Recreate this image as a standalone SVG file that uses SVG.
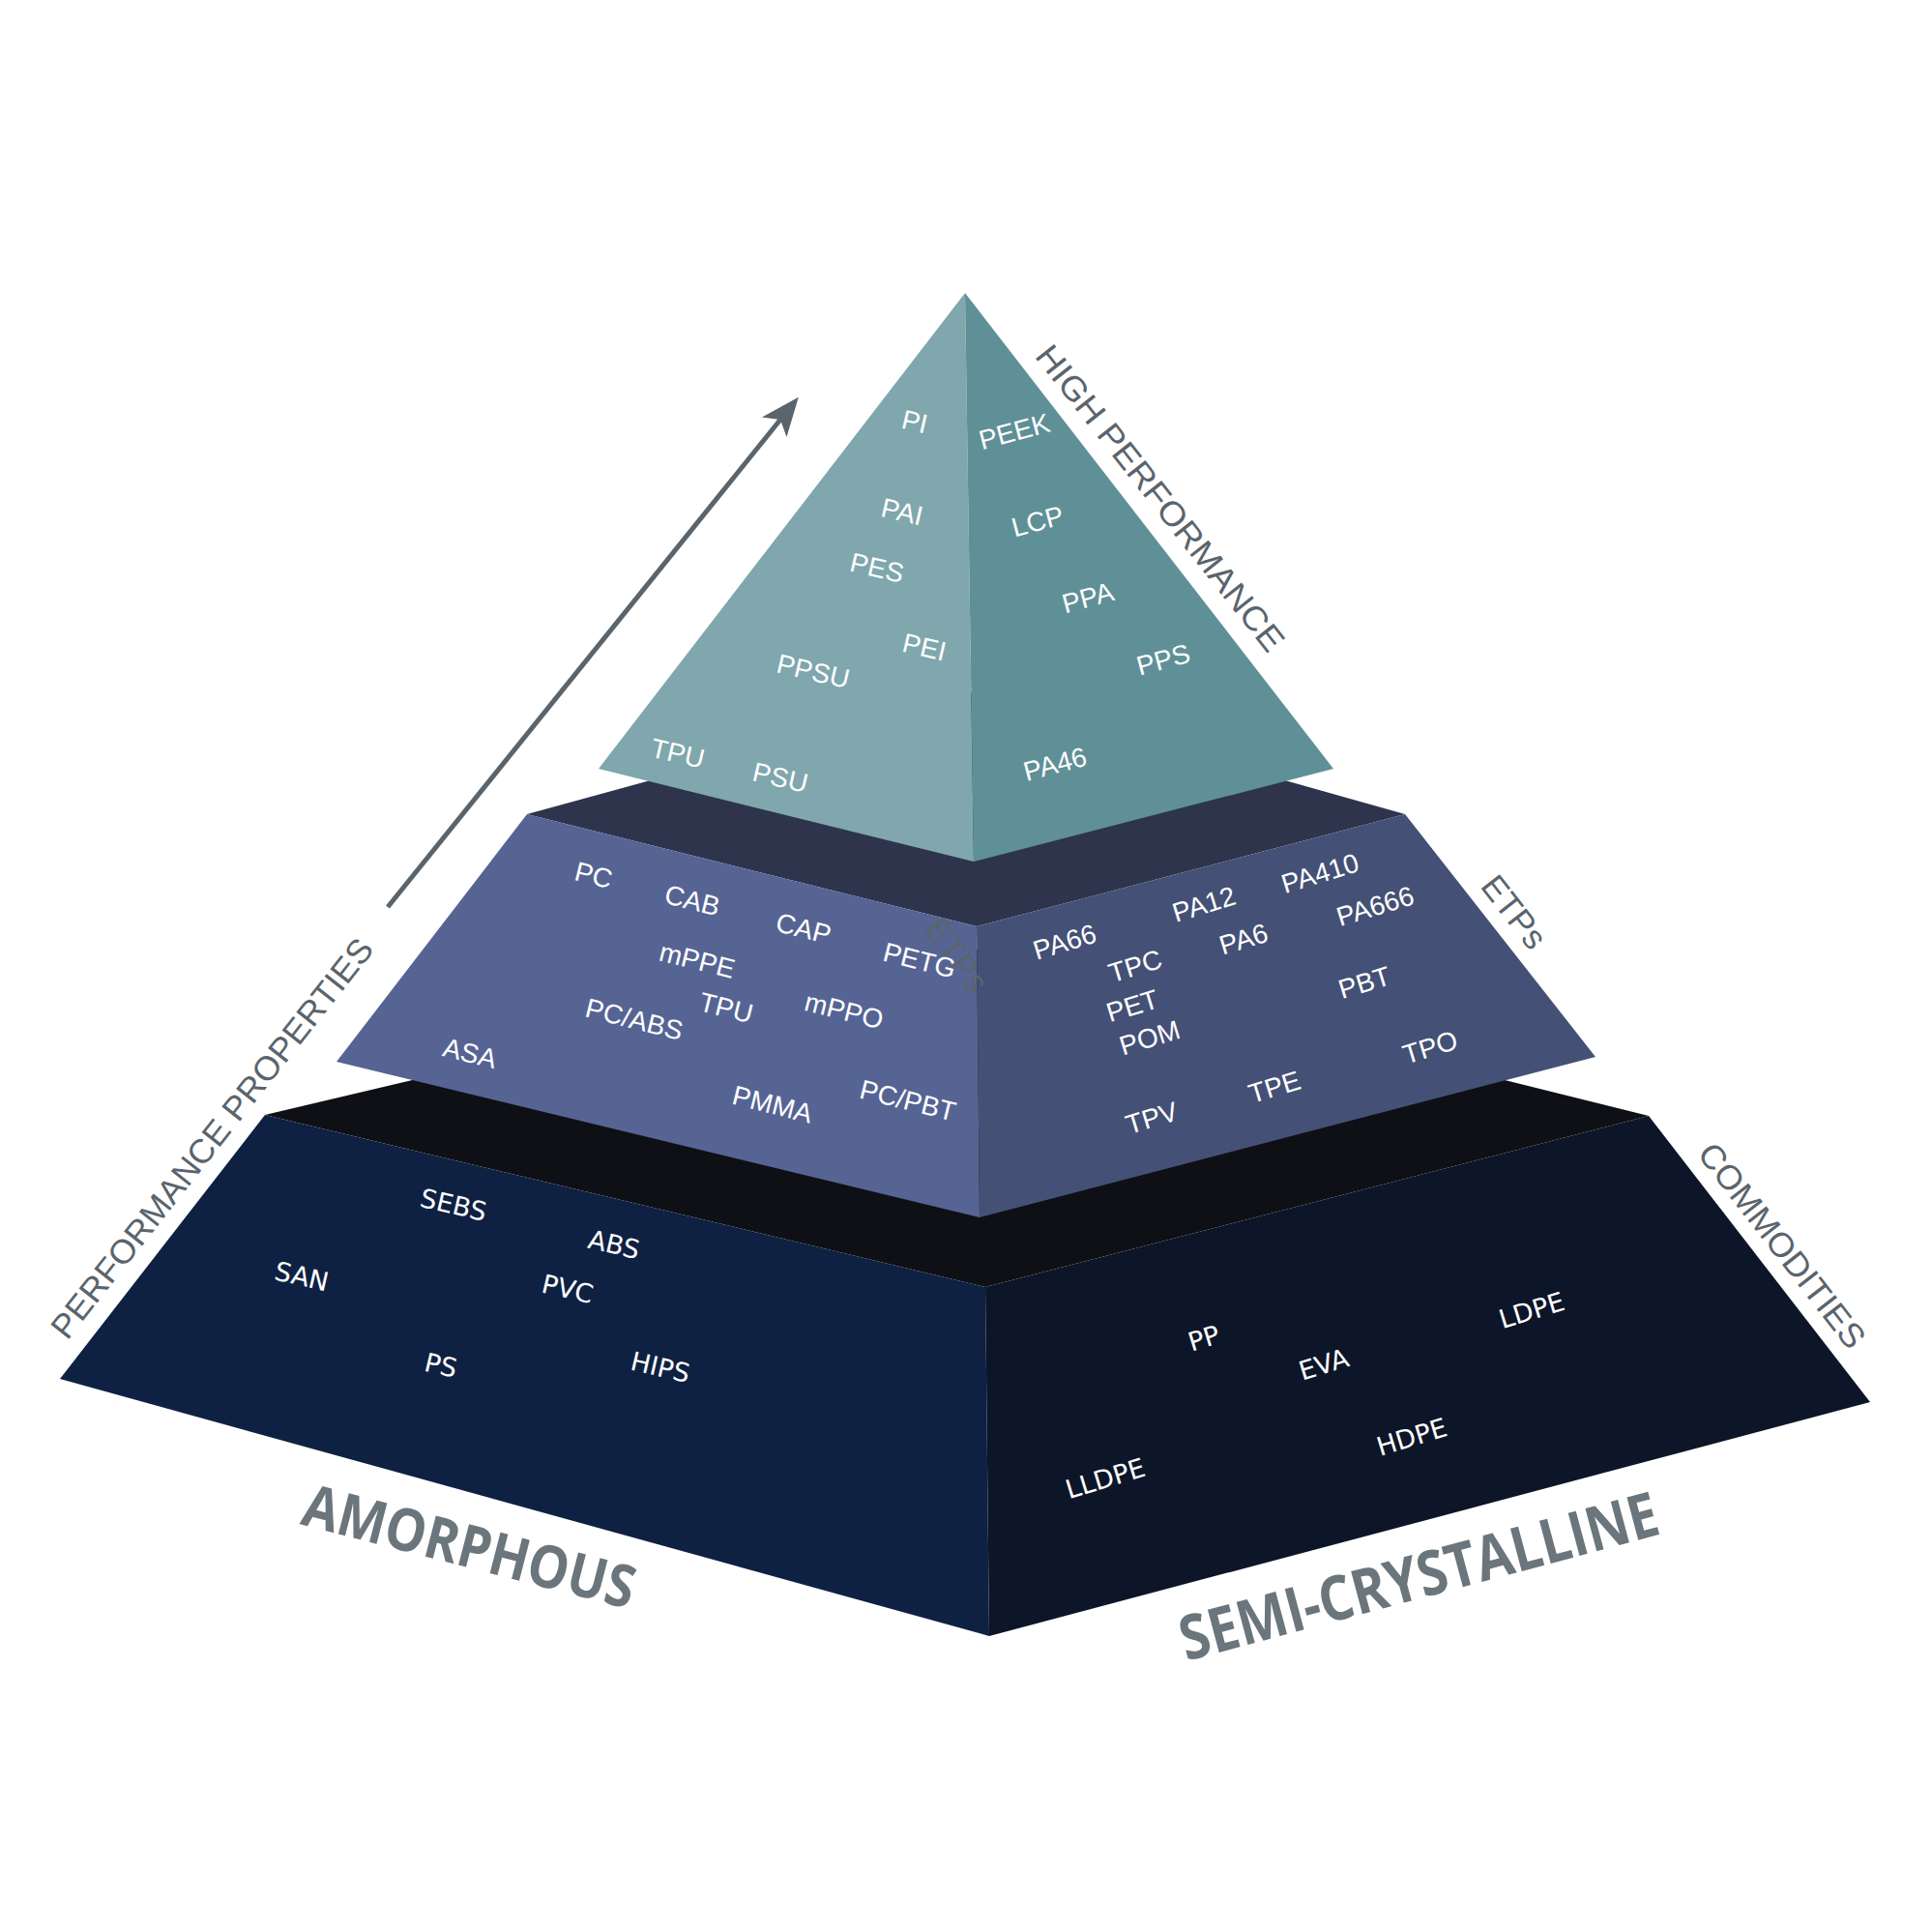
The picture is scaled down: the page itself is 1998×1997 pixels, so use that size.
<svg xmlns="http://www.w3.org/2000/svg" width="1998" height="1997" viewBox="0 0 1998 1997">
<defs>
<style>
.lbl{fill:#ffffff;font-family:"Liberation Sans",Arial,sans-serif;font-size:28px;text-anchor:middle}
.lblb{fill:#ffffff;font-family:"DejaVu Sans",sans-serif;font-size:27px;text-anchor:middle}
.side{fill:#5a646c;font-family:"Liberation Sans",Arial,sans-serif;font-size:35px;text-anchor:middle}
.big{fill:#6b757c;font-family:"Open Sans","Liberation Sans",sans-serif;font-weight:700;text-anchor:middle}
</style>
<marker id="arrowhead" markerUnits="userSpaceOnUse" viewBox="-12 -18 44 36" markerWidth="44" markerHeight="36" refX="0" refY="0" orient="auto">
<path d="M30,0 L-10,-16.4 L0,0 L-10,16.4 Z" fill="#5a646c"/>
</marker>
</defs>
<rect width="1998" height="1997" fill="#ffffff"/>

<g id="tier-commodities">
<polygon points="274,1153 1005,980 1705,1154 1019,1331" fill="#0f1015"/>
<polygon points="274,1153 1019,1331 1023,1692 62,1426" fill="#0f2142"/>
<polygon points="1019,1331 1705,1154 1934,1450 1023,1692" fill="#0d1528"/>
<g class="lblb">
<text transform="translate(469,1246) rotate(13)" dy="0.35em">SEBS</text>
<text transform="translate(635,1287) rotate(13)" dy="0.35em">ABS</text>
<text transform="translate(312,1320) rotate(13)" dy="0.35em">SAN</text>
<text transform="translate(587,1333) rotate(13)" dy="0.35em">PVC</text>
<text transform="translate(456,1412) rotate(13)" dy="0.35em">PS</text>
<text transform="translate(683,1414) rotate(13)" dy="0.35em">HIPS</text>
<text transform="translate(1245,1384) rotate(-17)" dy="0.35em">PP</text>
<text transform="translate(1369,1411) rotate(-17)" dy="0.35em">EVA</text>
<text transform="translate(1584,1355) rotate(-17)" dy="0.35em">LDPE</text>
<text transform="translate(1460,1486) rotate(-17)" dy="0.35em">HDPE</text>
<text transform="translate(1143,1529) rotate(-17)" dy="0.35em">LLDPE</text>
</g>
</g>

<g id="tier-etps">
<polygon points="545,842 1005,716 1453,842 1010,958" fill="#2e344c"/>
<polygon points="545,842 1010,958 1013,1259 348,1098" fill="#566494"/>
<polygon points="1010,958 1453,842 1650,1093 1013,1259" fill="#445075"/>
<g class="lbl">
<text transform="translate(614,905) rotate(14)" dy="0.35em">PC</text>
<text transform="translate(716,931) rotate(14)" dy="0.35em">CAB</text>
<text transform="translate(831,960) rotate(14)" dy="0.35em">CAP</text>
<text transform="translate(951,993) rotate(14)" dy="0.35em">PETG</text>
<text transform="translate(721,993) rotate(14)" dy="0.35em">mPPE</text>
<text transform="translate(751,1042) rotate(14)" dy="0.35em">TPU</text>
<text transform="translate(873,1045) rotate(14)" dy="0.35em">mPPO</text>
<text transform="translate(656,1054) rotate(14)" dy="0.35em">PC/ABS</text>
<text transform="translate(486,1089) rotate(14)" dy="0.35em">ASA</text>
<text transform="translate(799,1142) rotate(14)" dy="0.35em">PMMA</text>
<text transform="translate(939,1138) rotate(14)" dy="0.35em">PC/PBT</text>
<text transform="translate(1101,974) rotate(-17)" dy="0.35em">PA66</text>
<text transform="translate(1245,935) rotate(-17)" dy="0.35em">PA12</text>
<text transform="translate(1365,903) rotate(-17)" dy="0.35em">PA410</text>
<text transform="translate(1422,937) rotate(-17)" dy="0.35em">PA666</text>
<text transform="translate(1286,971) rotate(-17)" dy="0.35em">PA6</text>
<text transform="translate(1174,999) rotate(-17)" dy="0.35em">TPC</text>
<text transform="translate(1171,1040) rotate(-17)" dy="0.35em">PET</text>
<text transform="translate(1189,1073) rotate(-17)" dy="0.35em">POM</text>
<text transform="translate(1411,1016) rotate(-17)" dy="0.35em">PBT</text>
<text transform="translate(1479,1083) rotate(-17)" dy="0.35em">TPO</text>
<text transform="translate(1318,1124) rotate(-17)" dy="0.35em">TPE</text>
<text transform="translate(1191,1156) rotate(-17)" dy="0.35em">TPV</text>
</g>
</g>

<g id="tier-high-performance">
<polygon points="998,303 619,795 1007,891" fill="#7fa7ad"/>
<polygon points="998,303 1007,891 1379,795" fill="#5f9097"/>
<g class="lbl">
<text transform="translate(946,436) rotate(13)" dy="0.35em">PI</text>
<text transform="translate(933,529) rotate(13)" dy="0.35em">PAI</text>
<text transform="translate(907,587) rotate(13)" dy="0.35em">PES</text>
<text transform="translate(956,669) rotate(13)" dy="0.35em">PEI</text>
<text transform="translate(841,694) rotate(13)" dy="0.35em">PPSU</text>
<text transform="translate(701,779) rotate(13)" dy="0.35em">TPU</text>
<text transform="translate(807,804) rotate(13)" dy="0.35em">PSU</text>
<text transform="translate(1049,446) rotate(-15)" dy="0.35em">PEEK</text>
<text transform="translate(1073,539) rotate(-15)" dy="0.35em">LCP</text>
<text transform="translate(1125,618) rotate(-15)" dy="0.35em">PPA</text>
<text transform="translate(1203,682) rotate(-15)" dy="0.35em">PPS</text>
<text transform="translate(1091,790) rotate(-15)" dy="0.35em">PA46</text>
</g>
</g>

<g id="label-high-performance"><text class="side" transform="translate(1200,515) rotate(51.8)" dy="0.35em" textLength="392" lengthAdjust="spacingAndGlyphs">HIGH PERFORMANCE</text></g>
<g id="label-etps"><text class="side" transform="translate(1566,943) rotate(52)" dy="0.35em">ETPs</text></g>
<g id="label-etps-ghost"><text class="side" transform="translate(990,988) rotate(55)" dy="0.35em" fill="#606a72">ETPs</text></g>
<g id="label-commodities"><text class="side" transform="translate(1843,1288) rotate(52.2)" dy="0.35em" textLength="258" lengthAdjust="spacingAndGlyphs">COMMODITIES</text></g>
<g id="label-performance-properties"><text class="side" transform="translate(219,1177) rotate(-51.8)" dy="0.35em" textLength="515" lengthAdjust="spacingAndGlyphs">PERFORMANCE PROPERTIES</text></g>
<g id="label-amorphous"><text class="big" font-size="61" transform="translate(480,1620) rotate(14.5)" textLength="352" lengthAdjust="spacingAndGlyphs">AMORPHOUS</text></g>
<g id="label-semi-crystalline"><text class="big" font-size="64" transform="translate(1473,1652) rotate(-15)" textLength="510" lengthAdjust="spacingAndGlyphs">SEMI-CRYSTALLINE</text></g>

<g id="connectors">
<line x1="401" y1="938" x2="807" y2="434" stroke="#5a646c" stroke-width="5" marker-end="url(#arrowhead)"/>
</g>
</svg>
